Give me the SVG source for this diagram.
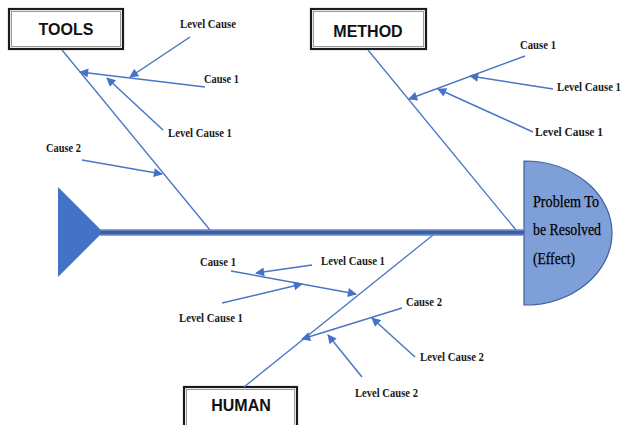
<svg xmlns="http://www.w3.org/2000/svg" width="628" height="425" viewBox="0 0 628 425">
  <style>
    .box { fill: #ffffff; stroke: #1a1a1a; stroke-width: 2.2; }
    .box-in { fill: none; stroke: #9a9a9a; stroke-width: 1; }
    .head { font-family: "Liberation Sans", Arial, sans-serif; font-weight: bold; font-size: 16px; fill: #111111; text-anchor: middle; }
    .lbl { font-family: "Liberation Serif", "Times New Roman", serif; font-weight: bold; font-size: 12.5px; fill: #1a1a1a; }
    .eff { font-family: "Liberation Serif", "Times New Roman", serif; font-size: 16px; fill: #000000; stroke: #000000; stroke-width: 0.25; }
    .bone { stroke: #4a76c6; stroke-width: 1.3; fill: none; }
    .sub { stroke: #4a76c6; stroke-width: 1.5; fill: none; marker-end: url(#ah); }
  </style>
  <defs>
    <marker id="ah" viewBox="0 0 10 10" refX="9" refY="5" markerWidth="10" markerHeight="9" markerUnits="userSpaceOnUse" orient="auto">
      <path d="M0,0 L10,5 L0,10 Z" fill="#4472c4"/>
    </marker>
  </defs>

  <rect width="628" height="425" fill="#ffffff"/>

  <!-- fish head: the effect -->
  <g id="effect">
    <path d="M524,161 A88 72 0 0 1 524,305 Z" fill="#7f9fd9" stroke="#3d5f9e" stroke-width="1.2"/>
    <text class="eff" x="533" y="207" textLength="66" lengthAdjust="spacingAndGlyphs">Problem To</text>
    <text class="eff" x="533" y="235" textLength="68" lengthAdjust="spacingAndGlyphs">be Resolved</text>
    <text class="eff" x="533" y="264" textLength="42" lengthAdjust="spacingAndGlyphs">(Effect)</text>
  </g>

  <!-- fish tail -->
  <g id="tail">
    <polygon points="58,187 103,232 58,277" fill="#4472c4"/>
  </g>

  <!-- category boxes -->
  <g id="tools">
    <rect class="box" x="9" y="9" width="114" height="40"/>
    <rect class="box-in" x="11.5" y="11.5" width="109" height="35"/>
    <text class="head" x="66" y="35">TOOLS</text>
  </g>
  <g id="method">
    <rect class="box" x="311" y="9" width="115" height="40"/>
    <rect class="box-in" x="313.5" y="11.5" width="110" height="35"/>
    <text class="head" x="368" y="37">METHOD</text>
  </g>
  <g id="human">
    <rect class="box" x="184" y="387" width="113" height="45"/>
    <rect class="box-in" x="186.5" y="389.5" width="108" height="40"/>
    <text class="head" x="241" y="411">HUMAN</text>
  </g>

  <!-- cause labels -->
  <g id="tools-causes">
    <text class="lbl" x="180" y="28" textLength="56" lengthAdjust="spacingAndGlyphs">Level Cause</text>
    <text class="lbl" x="204" y="83" textLength="35" lengthAdjust="spacingAndGlyphs">Cause 1</text>
    <text class="lbl" x="168" y="137" textLength="64" lengthAdjust="spacingAndGlyphs">Level Cause 1</text>
    <text class="lbl" x="46" y="152" textLength="35" lengthAdjust="spacingAndGlyphs">Cause 2</text>
  </g>
  <g id="method-causes">
    <text class="lbl" x="520" y="49" textLength="36" lengthAdjust="spacingAndGlyphs">Cause 1</text>
    <text class="lbl" x="557" y="91" style="font-size:11.5px" textLength="64" lengthAdjust="spacingAndGlyphs">Level Cause 1</text>
    <text class="lbl" x="535" y="136" textLength="68" lengthAdjust="spacingAndGlyphs">Level Cause 1</text>
  </g>
  <g id="human-causes">
    <text class="lbl" x="200" y="266" textLength="36" lengthAdjust="spacingAndGlyphs">Cause 1</text>
    <text class="lbl" x="321" y="265" textLength="64" lengthAdjust="spacingAndGlyphs">Level Cause 1</text>
    <text class="lbl" x="179" y="322" textLength="64" lengthAdjust="spacingAndGlyphs">Level Cause 1</text>
    <text class="lbl" x="406" y="306" textLength="36" lengthAdjust="spacingAndGlyphs">Cause 2</text>
    <text class="lbl" x="420" y="361" textLength="64" lengthAdjust="spacingAndGlyphs">Level Cause 2</text>
    <text class="lbl" x="355" y="397" textLength="63" lengthAdjust="spacingAndGlyphs">Level Cause 2</text>
  </g>

  <!-- connectors -->
  <g id="connectors">
    <!-- spine -->
    <line x1="100" y1="232.5" x2="524" y2="232.5" stroke="#8ba7da" stroke-width="7"/>
    <line x1="100" y1="232.5" x2="524" y2="232.5" stroke="#3a5fa6" stroke-width="4"/>
    <!-- main bones -->
    <line class="bone" x1="62" y1="50" x2="210" y2="230"/>
    <line class="bone" x1="368" y1="50" x2="516" y2="230"/>
    <line class="bone" x1="244" y1="387" x2="433" y2="235"/>
    <!-- tools -->
    <line class="sub" x1="205" y1="87" x2="80" y2="72"/>
    <line class="sub" x1="190" y1="37" x2="130" y2="77"/>
    <line class="sub" x1="163" y1="130" x2="107" y2="78"/>
    <line class="sub" x1="82" y1="160" x2="162" y2="174"/>
    <!-- method -->
    <line class="sub" x1="525" y1="56" x2="409" y2="99"/>
    <line class="sub" x1="553" y1="89" x2="470" y2="76"/>
    <line class="sub" x1="533" y1="132" x2="438" y2="89"/>
    <!-- human -->
    <line class="sub" x1="231" y1="271" x2="356" y2="294"/>
    <line class="sub" x1="312" y1="265" x2="256" y2="273"/>
    <line class="sub" x1="222" y1="303" x2="302" y2="284"/>
    <line class="sub" x1="402" y1="308" x2="302" y2="339"/>
    <line class="sub" x1="415" y1="357" x2="372" y2="318"/>
    <line class="sub" x1="362" y1="377" x2="328" y2="335"/>
  </g>
</svg>
